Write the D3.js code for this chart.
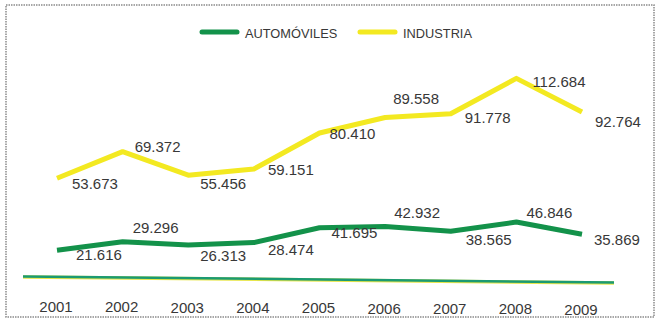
<!DOCTYPE html>
<html>
<head>
<meta charset="utf-8">
<script src="https://cdn.jsdelivr.net/npm/d3@7"></script>
<style>
body { margin: 0; background: #fff; }
text { font-family: "Liberation Sans", Arial, sans-serif; fill: #383838; }
</style>
</head>
<body>
<div id="chart"></div>
<script>
var w = 659, h = 324;

// data
var years = [2001, 2002, 2003, 2004, 2005, 2006, 2007, 2008, 2009];
var industria = [53.673, 69.372, 55.456, 59.151, 80.410, 89.558, 91.778, 112.684, 92.764];
var automoviles = [21.616, 29.296, 26.313, 28.474, 41.695, 42.932, 38.565, 46.846, 35.869];
var seriesNames = ["AUTOMÓVILES", "INDUSTRIA"];

// label placement relative to each vertex (px)
var dxInd = [15, 12, 12, 14, 10, 8, 14, 16, 13];
var dyInd = [11, 0, 14, 6, 6, -13, 9, 9, 15];
var dxAut = [19, 10, 12, 14, 12, 9, 15, 10, 12];
var dyAut = [10, -9, 16, 12, 10, -8, 14, -4, 11];

var green = "#13924a", yellow = "#f3e921";

var svg = d3.select("#chart").append("svg")
    .attr("width", w)
    .attr("height", h);

// dotted frame
svg.append("rect")
    .attr("x", 6).attr("y", 5)
    .attr("width", 648).attr("height", 312)
    .attr("fill", "none")
    .attr("stroke", "#8a8a8a")
    .attr("stroke-width", 1.5)
    .attr("stroke-dasharray", "1.5,1");

var x = d3.scalePoint()
    .domain(years)
    .range([57, 582]);

// the two series sit on their own scales, as in the original
var yInd = d3.scaleLinear().domain([0, 120]).range([269, 66]);
var yAut = d3.scaleLinear().domain([0, 50]).range([274.5, 218.5]);

// base line
svg.append("line")
    .attr("x1", x(2001) - 34).attr("x2", x(2009) + 32)
    .attr("y1", 277).attr("y2", 283)
    .attr("stroke", "#e8e64a")
    .attr("stroke-width", 3.5);
svg.append("line")
    .attr("x1", x(2001) - 34).attr("x2", x(2009) + 32)
    .attr("y1", 276.5).attr("y2", 282.5)
    .attr("stroke", "#1b9a72")
    .attr("stroke-width", 2.5);

// year labels
svg.append("g")
    .selectAll("text")
    .data(years)
    .enter()
    .append("text")
    .attr("x", function(d) { return x(d) - 1; })
    .attr("y", function(d) { return 312 + (x(d) - x(2001)) * 0.005; })
    .attr("text-anchor", "middle")
    .style("font-size", "15px")
    .text(function(d) { return d; });

function drawSeries(vals, y, color, dxs, dys) {
    var pts = vals.map(function(v, i) {
        return { year: years[i], val: v, dx: dxs[i], dy: dys[i] };
    });
    var line = d3.line()
        .x(function(d) { return x(d.year); })
        .y(function(d) { return y(d.val); });
    svg.append("path")
        .datum(pts)
        .attr("d", line)
        .attr("fill", "none")
        .attr("stroke", color)
        .attr("stroke-width", 5)
        .attr("stroke-linejoin", "round");
    svg.append("g")
        .selectAll("text")
        .data(pts)
        .enter()
        .append("text")
        .attr("x", function(d) { return x(d.year) + d.dx; })
        .attr("y", function(d) { return y(d.val) + d.dy; })
        .style("font-size", "15px")
        .text(function(d) { return d3.format(".3f")(d.val); });
}

drawSeries(industria, yInd, yellow, dxInd, dyInd);
drawSeries(automoviles, yAut, green, dxAut, dyAut);

// legend
var legend = svg.append("g");
var legX = [202, 360];
var legColors = [green, yellow];
seriesNames.forEach(function(nm, i) {
    legend.append("line")
        .attr("x1", legX[i]).attr("x2", legX[i] + 35)
        .attr("y1", 32).attr("y2", 32)
        .attr("stroke", legColors[i])
        .attr("stroke-width", 5)
        .attr("stroke-linecap", "round");
    legend.append("text")
        .attr("x", legX[i] + 43)
        .attr("y", 38)
        .style("font-size", "12.8px")
        .text(nm);
});
</script>
</body>
</html>
